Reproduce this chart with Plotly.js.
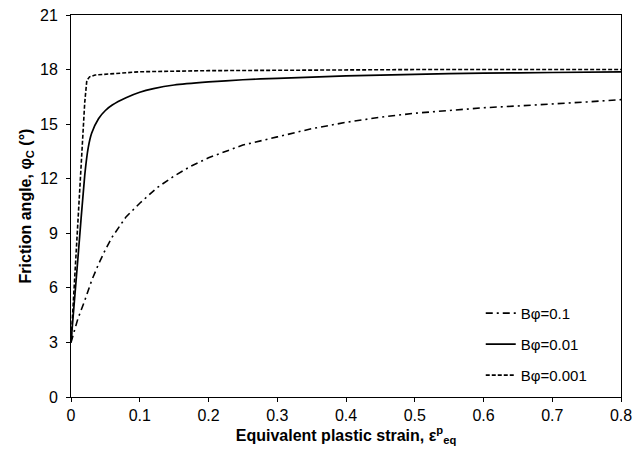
<!DOCTYPE html>
<html>
<head>
<meta charset="utf-8">
<script src="https://cdn.plot.ly/plotly-3.0.1.min.js"></script>
<style>html,body{margin:0;padding:0;background:#fff;}#chart{width:644px;height:455px;}</style>
</head>
<body>
<div id="chart"></div>
<script>
// Bφ = 0.1 (dash-dot)
const x01 = [0, 0.005, 0.01, 0.02, 0.03, 0.04, 0.05, 0.06, 0.08, 0.1, 0.125, 0.15, 0.175, 0.2, 0.25, 0.3, 0.35, 0.4, 0.45, 0.5, 0.55, 0.6, 0.65, 0.7, 0.75, 0.8];
const y01 = [3, 3.6, 4.3, 5.3, 6.4, 7.3, 8.1, 8.8, 9.9, 10.65, 11.5, 12.15, 12.7, 13.15, 13.85, 14.3, 14.75, 15.1, 15.38, 15.6, 15.76, 15.9, 16.0, 16.1, 16.22, 16.35];
// Bφ = 0.01 (solid)
const x001 = [0, 0.01, 0.02, 0.025, 0.03, 0.04, 0.05, 0.06, 0.08, 0.1, 0.12, 0.15, 0.2, 0.25, 0.3, 0.4, 0.5, 0.6, 0.7, 0.8];
const y001 = [3, 7.6, 12.2, 13.7, 14.5, 15.3, 15.75, 16.05, 16.45, 16.75, 16.95, 17.15, 17.32, 17.44, 17.52, 17.65, 17.74, 17.8, 17.84, 17.87];
// Bφ = 0.001 (dashed)
const x0001 = [0, 0.01, 0.02, 0.023, 0.027, 0.035, 0.05, 0.1, 0.2, 0.3, 0.4, 0.5, 0.6, 0.7, 0.8];
const y0001 = [3, 9.6, 16.2, 17.4, 17.6, 17.7, 17.75, 17.88, 17.94, 17.97, 17.98, 18.0, 18.0, 18.0, 18.0];
const names = ['Bφ=0.1', 'Bφ=0.01', 'Bφ=0.001'];
const xTicks = [0, 0.1, 0.2, 0.3, 0.4, 0.5, 0.6, 0.7, 0.8];
const xTickText = ['0', '0.1', '0.2', '0.3', '0.4', '0.5', '0.6', '0.7', '0.8'];
const yTicks = [0, 3, 6, 9, 12, 15, 18, 21];

const traces = [
  {x: x01, y: y01, name: names[0], mode: 'lines', legendgroup: 'a', line: {color: '#000', width: 1.6, dash: '7px,4px,2px,4px'}},
  {x: x001, y: y001, name: names[1], mode: 'lines', legendgroup: 'b', line: {color: '#000', width: 1.7, shape: 'spline', smoothing: 0.6}},
  {x: x0001, y: y0001, name: names[2], mode: 'lines', legendgroup: 'c', line: {color: '#000', width: 1.6, dash: '4px,2px'}}
];

const font = {family: 'Liberation Sans, Arial, sans-serif', color: '#000'};
const layout = {
  width: 644, height: 455,
  margin: {l: 71, r: 23, t: 15, b: 58},
  paper_bgcolor: '#fff', plot_bgcolor: '#fff',
  font: Object.assign({size: 16}, font),
  showlegend: true,
  legend: {x: 0.745, y: 0.262, xanchor: 'left', yanchor: 'top', bgcolor: 'rgba(0,0,0,0)',
           font: Object.assign({size: 15}, font), traceorder: 'grouped', tracegroupgap: 8.5, itemwidth: 30},
  xaxis: {
    range: [0, 0.8], tickvals: xTicks, ticktext: xTickText,
    showgrid: false, zeroline: false, showline: true, mirror: true, linecolor: '#000', linewidth: 1,
    ticks: 'outside', ticklen: 4, tickcolor: '#000', tickfont: Object.assign({size: 16}, font),
    title: {text: '<b>Equivalent plastic strain, ε<sup>p</sup><sub>eq</sub></b>', font: Object.assign({size: 16}, font), standoff: 6}
  },
  yaxis: {
    range: [0, 21], tickvals: yTicks,
    showgrid: false, zeroline: false, showline: true, mirror: true, linecolor: '#000', linewidth: 1,
    ticks: 'outside', ticklen: 4, tickcolor: '#000', tickfont: Object.assign({size: 16}, font),
    ticklabelstandoff: 5,
    title: {text: '<b>Friction angle, φ<sub>C</sub> (°)</b>', font: Object.assign({size: 16}, font), standoff: 4}
  }
};
Plotly.newPlot('chart', traces, layout, {displayModeBar: false, staticPlot: true});
</script>
</body>
</html>
